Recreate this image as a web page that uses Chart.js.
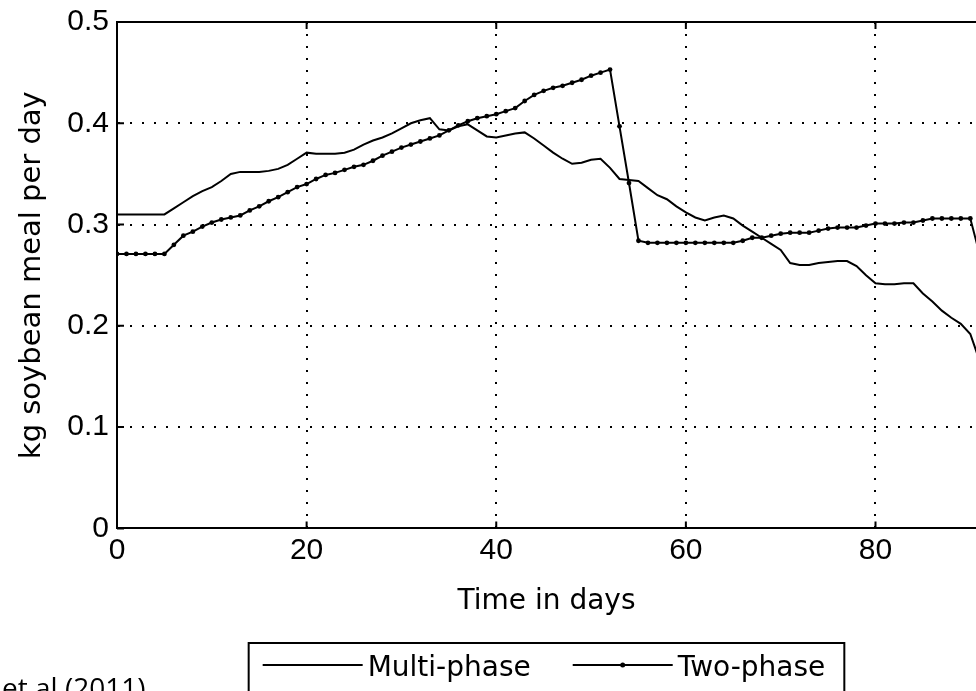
<!DOCTYPE html>
<html><head><meta charset="utf-8">
<script src="https://cdn.jsdelivr.net/npm/chart.js@4"></script>
<style>
html,body{margin:0;padding:0;background:#fff;overflow:hidden;}
#wrap{position:relative;width:976px;height:691px;overflow:hidden;}
#c{display:block;}
#note{position:absolute;left:2px;top:668px;font-family:"Open Sans";font-size:28px;color:#000;white-space:nowrap;}
</style></head><body>
<div id="wrap"><canvas id="c" width="976" height="691"></canvas><div id="note">et al (2011)</div></div>
<script>
const days = [0,1,2,3,4,5,6,7,8,9,10,11,12,13,14,15,16,17,18,19,20,21,22,23,24,25,26,27,28,29,30,31,32,33,34,35,36,37,38,39,40,41,42,43,44,45,46,47,48,49,50,51,52,53,54,55,56,57,58,59,60,61,62,63,64,65,66,67,68,69,70,71,72,73,74,75,76,77,78,79,80,81,82,83,84,85,86,87,88,89,90,91];
const multiPhase = [0.310,0.310,0.310,0.310,0.310,0.310,
  0.316,0.322,0.328,0.333,0.337,0.343,0.350,
  0.352,0.352,0.352,0.353,0.355,0.359,0.365,0.371,
  0.370,0.370,0.370,0.371,0.374,0.379,0.383,0.386,0.390,0.395,
  0.400,0.403,0.405,0.394,0.393,0.397,0.399,0.393,0.387,0.386,
  0.388,0.390,0.391,0.385,0.378,0.371,0.365,0.360,0.361,0.364,
  0.365,0.356,0.345,0.344,0.343,0.336,0.329,0.325,0.318,0.312,
  0.307,0.304,0.307,0.309,0.306,0.299,0.293,0.287,0.281,0.275,
  0.262,0.260,0.260,0.262,0.263,0.264,0.264,0.259,0.250,0.242,
  0.241,0.241,0.242,0.242,0.232,0.224,0.215,0.208,0.202,0.192,0.165];
const twoPhase = [0.271,0.271,0.271,0.271,0.271,0.271,
  0.280,0.289,0.293,0.298,0.302,0.305,0.307,
  0.309,0.314,0.318,0.323,0.327,0.332,0.337,0.340,
  0.345,0.349,0.351,0.354,0.357,0.359,0.363,0.368,0.372,0.376,
  0.379,0.382,0.385,0.388,0.393,0.398,0.402,0.405,0.407,0.409,
  0.412,0.415,0.422,0.428,0.432,0.435,0.437,0.440,0.443,0.447,
  0.450,0.453,0.397,0.341,0.284,0.282,0.282,0.282,0.282,0.282,
  0.282,0.282,0.282,0.282,0.282,0.284,0.287,0.287,0.289,0.291,
  0.292,0.292,0.292,0.294,0.296,0.297,0.297,0.297,0.299,0.301,
  0.301,0.301,0.302,0.302,0.304,0.306,0.306,0.306,0.306,0.306,0.270];
const seriesNames = ['Multi-phase', 'Two-phase'];
const xTicks = [0, 20, 40, 60, 80];
const yTicks = [0, 0.1, 0.2, 0.3, 0.4, 0.5];
const xTitle = 'Time in days';
const yTitle = 'kg soybean meal per day';

const frame = {
  id: 'frame',
  afterDatasetsDraw(chart) {
    const {ctx, chartArea: a, scales} = chart;
    ctx.save();
    ctx.strokeStyle = '#000';
    ctx.lineWidth = 2;
    ctx.beginPath();
    ctx.moveTo(a.left - 1, a.top);
    ctx.lineTo(a.right, a.top);
    ctx.stroke();
    ctx.beginPath();
    scales.y.ticks.forEach(t => {
      const y = scales.y.getPixelForValue(t.value);
      ctx.moveTo(a.left, y); ctx.lineTo(a.left + 7, y);
    });
    scales.x.ticks.forEach(t => {
      const x = scales.x.getPixelForValue(t.value);
      ctx.moveTo(x, a.bottom); ctx.lineTo(x, a.bottom - 7);
      ctx.moveTo(x, a.top); ctx.lineTo(x, a.top + 7);
    });
    ctx.stroke();
    ctx.restore();
  }
};

const boxLegend = {
  id: 'boxLegend',
  afterDraw(chart) {
    const {ctx, chartArea: a} = chart;
    const ds = chart.data.datasets;
    ctx.save();
    ctx.font = '28px "DejaVu Sans"';
    const lineLen = 100, gapLT = 5, gapItems = 42;
    const w = ds.map(d => ctx.measureText(d.label).width);
    const contentW = 2 * (lineLen + gapLT) + w[0] + w[1] + gapItems;
    let x = (a.left + a.right) / 2 - 2.5 - contentW / 2;
    const top = 643, lineY = 665;
    ctx.strokeStyle = '#000';
    ctx.lineWidth = 2;
    ctx.strokeRect(x - 14, top, contentW + 33, 80);
    ctx.fillStyle = '#000';
    ctx.textBaseline = 'alphabetic';
    ds.forEach((d, i) => {
      ctx.lineWidth = 2;
      ctx.beginPath(); ctx.moveTo(x, lineY); ctx.lineTo(x + lineLen, lineY); ctx.stroke();
      if (d.pointRadius > 0) {
        ctx.beginPath(); ctx.arc(x + lineLen / 2, lineY, 2.5, 0, Math.PI * 2); ctx.fill();
      }
      x += lineLen + gapLT;
      ctx.fillText(d.label, x, 676);
      x += w[i] + gapItems;
    });
    ctx.restore();
  }
};

new Chart(document.getElementById('c').getContext('2d'), {
  type: 'line',
  data: {
    datasets: [
      { label: seriesNames[0], data: days.map((d, i) => ({x: d, y: multiPhase[i]})),
        borderColor: '#000', borderWidth: 2, pointRadius: 0, tension: 0, fill: false },
      { label: seriesNames[1], data: days.map((d, i) => ({x: d, y: twoPhase[i]})),
        borderColor: '#000', borderWidth: 2, pointRadius: 2.4, pointBorderWidth: 0,
        pointBackgroundColor: '#000', tension: 0, fill: false }
    ]
  },
  options: {
    responsive: false,
    animation: false,
    devicePixelRatio: 1,
    layout: { autoPadding: false, padding: { left: 0, right: 0, top: 22, bottom: 48 } },
    plugins: { legend: { display: false }, tooltip: { enabled: false } },
    scales: {
      x: {
        type: 'linear', min: 0, max: 90.6,
        afterBuildTicks: s => { s.ticks = xTicks.map(v => ({value: v})); },
        afterFit: s => { s.paddingLeft = 0; s.paddingRight = 0; },
        grid: { color: '#000', lineWidth: 2, drawTicks: false },
        border: { display: true, color: '#000', width: 2, dash: [2, 10] },
        ticks: { font: { family: 'Liberation Sans', size: 30 }, color: '#000', padding: 4, maxRotation: 0, includeBounds: false },
        title: { display: true, text: xTitle, color: '#000', font: { family: 'DejaVu Sans', size: 28 }, padding: { top: 13, bottom: 24 } }
      },
      y: {
        min: 0, max: 0.5,
        afterBuildTicks: s => { s.ticks = yTicks.map(v => ({value: v})); },
        afterFit: s => { s.width = 117; s.paddingTop = 0; s.paddingBottom = 0; },
        grid: { color: '#000', lineWidth: 2, drawTicks: false },
        border: { display: true, color: '#000', width: 2, dash: [2, 10] },
        ticks: { font: { family: 'Liberation Sans', size: 30 }, color: '#000', padding: 8 },
        title: { display: true, text: yTitle, color: '#000', font: { family: 'DejaVu Sans', size: 29 }, padding: { top: 15, bottom: 0 } }
      }
    }
  },
  plugins: [frame, boxLegend]
});
</script>
</body></html>
